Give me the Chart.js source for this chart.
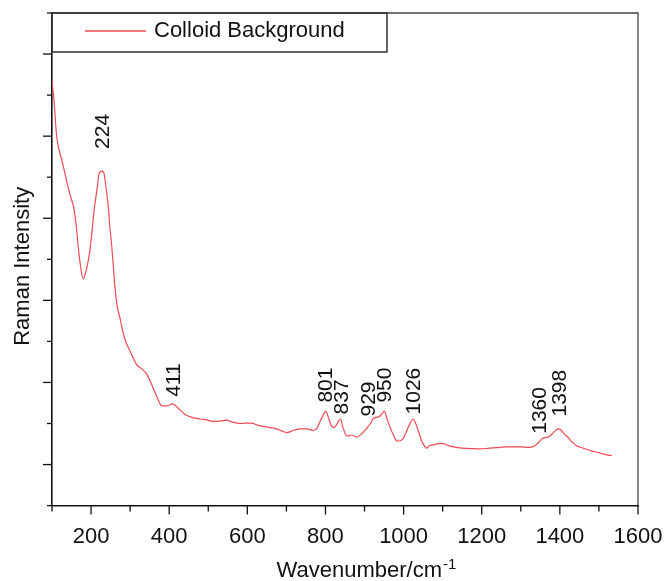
<!DOCTYPE html>
<html>
<head>
<meta charset="utf-8">
<script src="https://cdn.jsdelivr.net/npm/chart.js@4.4.1/dist/chart.umd.min.js"></script>
<style>
  html, body { margin: 0; padding: 0; background: #fff; }
  canvas { display: block; }
</style>
</head>
<body>
<canvas id="ramanChart" width="667" height="581"></canvas>
<script>
// спектр: волновое число (см-1) и интенсивность (усл. ед.)
const wavenumber = [
  100, 105, 112, 118, 125, 133, 142, 150, 155, 161, 167, 173, 180, 189, 196, 202,
  208, 215, 221, 228, 233, 238, 244, 248, 253, 257, 261, 267, 274, 278, 287, 300,
  317, 330, 342, 355, 368, 381, 394, 409, 421, 438, 454, 479, 496, 513, 530, 547,
  563, 581, 596, 611, 626, 641, 658, 675, 688, 701, 718, 735, 752, 769, 779, 786,
  793, 801, 808, 816, 822, 829, 838, 845, 855, 866, 880, 893, 906, 915, 923, 936,
  944, 951, 958, 966, 975, 983, 992, 1000, 1007, 1013, 1019, 1025, 1031, 1038, 1046, 1053,
  1059, 1066, 1076, 1089, 1102, 1115, 1128, 1150, 1170, 1196, 1220, 1240, 1260, 1281, 1300, 1320,
  1333, 1345, 1358, 1366, 1375, 1385, 1396, 1403, 1410, 1418, 1430, 1443, 1460, 1478, 1495, 1510,
  1523, 1533
];
const intensity = [
  10330, 9880, 8990, 8670, 8420, 8100, 7730, 7450, 7290, 6910, 6310, 5830, 5520, 5790, 6150, 6640,
  7210, 7690, 8100, 8150, 8100, 7770, 7290, 6800, 6310, 5830, 5340, 4850, 4570, 4380, 4040, 3760,
  3430, 3330, 3210, 2950, 2660, 2430, 2430, 2480, 2390, 2240, 2160, 2110, 2090, 2050, 2060, 2080,
  2030, 2000, 2010, 2010, 1960, 1930, 1900, 1870, 1820, 1780, 1830, 1870, 1870, 1830, 1900, 2050,
  2180, 2300, 2130, 1930, 1900, 1980, 2110, 1900, 1690, 1720, 1670, 1750, 1890, 2000, 2130, 2160,
  2230, 2300, 2100, 1890, 1700, 1570, 1580, 1650, 1800, 1930, 2050, 2110, 2000, 1810, 1580, 1460,
  1400, 1460, 1480, 1510, 1510, 1460, 1430, 1400, 1390, 1380, 1400, 1410, 1430, 1430, 1430, 1420,
  1440, 1530, 1650, 1660, 1700, 1790, 1870, 1840, 1760, 1690, 1560, 1460, 1400, 1340, 1300, 1260,
  1230, 1220
];

// подписи пиков: текст и точка привязки (нижний край подписи)
const peakLabels = ['224', '411', '801', '837', '929', '950', '1026', '1360', '1398'];
const peakLabelX = [232, 412, 803, 844, 911, 954, 1028, 1349, 1400];
const peakLabelY = [8690, 2650, 2510, 2220, 2170, 2510, 2220, 1750, 2170];

// деления осей
const xTicks = [100, 200, 300, 400, 500, 600, 700, 800, 900, 1000, 1100, 1200, 1300, 1400, 1500, 1600];
const xTickLabels = ['', '200', '', '400', '', '600', '', '800', '', '1000', '', '1200', '', '1400', '', '1600'];
const yTicks = [0, 1000, 2000, 3000, 4000, 5000, 6000, 7000, 8000, 9000, 10000, 11000, 12000];

const seriesName = 'Colloid Background';
const xTitle = 'Wavenumber/cm';
const xTitleSup = '-1';
const yTitle = 'Raman Intensity';

const FONT = '"Liberation Sans", Arial, sans-serif';
const TEXT = '#111';
const LINE = '#ef4a55';

// рамка, засечки, легенда, подписи
const decorPlugin = {
  id: 'decor',
  afterDraw(chart) {
    const ctx = chart.ctx;
    const area = chart.chartArea;
    const xs = chart.scales.x;
    const ys = chart.scales.y;
    ctx.save();

    // верх и правая сторона рамки
    ctx.strokeStyle = '#444';
    ctx.lineWidth = 1.3;
    ctx.beginPath();
    ctx.moveTo(area.left, area.top);
    ctx.lineTo(area.right, area.top);
    ctx.lineTo(area.right, area.bottom);
    ctx.stroke();

    // засечки по X (большие на подписанных)
    ctx.strokeStyle = '#111';
    ctx.lineWidth = 1.3;
    xTicks.forEach((v, i) => {
      const px = xs.getPixelForValue(v);
      const len = xTickLabels[i] ? 9 : 6;
      ctx.beginPath();
      ctx.moveTo(px, area.bottom);
      ctx.lineTo(px, area.bottom + len);
      ctx.stroke();
    });

    // засечки по Y
    yTicks.forEach((v, i) => {
      const py = ys.getPixelForValue(v);
      const len = i % 2 === 1 ? 9 : 5;
      ctx.beginPath();
      ctx.moveTo(area.left - len, py);
      ctx.lineTo(area.left, py);
      ctx.stroke();
    });

    // легенда
    ctx.strokeStyle = '#333';
    ctx.lineWidth = 1.5;
    ctx.strokeRect(area.left, area.top, 335, 39);
    ctx.strokeStyle = LINE;
    ctx.lineWidth = 1.3;
    ctx.beginPath();
    ctx.moveTo(area.left + 33, area.top + 18);
    ctx.lineTo(area.left + 94, area.top + 18);
    ctx.stroke();
    ctx.fillStyle = TEXT;
    ctx.font = '22px ' + FONT;
    ctx.textAlign = 'left';
    ctx.textBaseline = 'middle';
    ctx.fillText(chart.data.datasets[0].label, area.left + 102, area.top + 18);

    // подписи пиков
    ctx.font = '21px ' + FONT;
    peakLabels.forEach((t, i) => {
      const px = xs.getPixelForValue(peakLabelX[i]);
      const py = ys.getPixelForValue(peakLabelY[i]);
      ctx.save();
      ctx.translate(px, py);
      ctx.rotate(-Math.PI / 2);
      ctx.textAlign = 'left';
      ctx.textBaseline = 'middle';
      ctx.fillText(t, 0, 0);
      ctx.restore();
    });

    // название оси Y
    ctx.font = '22px ' + FONT;
    ctx.save();
    ctx.translate(23, (area.top + area.bottom) / 2 + 7);
    ctx.rotate(-Math.PI / 2);
    ctx.textAlign = 'center';
    ctx.textBaseline = 'middle';
    ctx.fillText(yTitle, 0, 0);
    ctx.restore();

    // название оси X с верхним индексом
    ctx.textAlign = 'left';
    ctx.textBaseline = 'alphabetic';
    const base = chart.height - 4;
    const w = ctx.measureText(xTitle).width;
    ctx.font = '15px ' + FONT;
    const ws = ctx.measureText(xTitleSup).width;
    const x0 = (area.left + area.right) / 2 + 21 - (w + ws) / 2;
    ctx.font = '22px ' + FONT;
    ctx.fillText(xTitle, x0, base);
    ctx.font = '15px ' + FONT;
    ctx.fillText(xTitleSup, x0 + w + 1, base - 8);

    ctx.restore();
  }
};

const ctx = document.getElementById('ramanChart').getContext('2d');

const config = {
  type: 'line',
  data: {
    datasets: [{
      label: seriesName,
      data: wavenumber.map((x, i) => ({ x: x, y: intensity[i] })),
      borderColor: LINE,
      borderWidth: 1.2,
      pointRadius: 0,
      cubicInterpolationMode: 'monotone',
      fill: false,
    }],
  },
  options: {
    responsive: false,
    animation: false,
    devicePixelRatio: 1,
    layout: {
      padding: { left: 52, top: 13, right: 29, bottom: 27 },
    },
    plugins: {
      legend: { display: false },
      tooltip: { enabled: false },
    },
    scales: {
      x: {
        type: 'linear',
        min: 100,
        max: 1600,
        afterBuildTicks: scale => {
          scale.ticks = xTicks.map(v => ({ value: v }));
        },
        ticks: {
          autoSkip: false,
          maxRotation: 0,
          padding: 4,
          color: TEXT,
          font: { family: FONT, size: 22 },
          callback: (value) => xTickLabels[xTicks.indexOf(value)] || '',
        },
        grid: {
          drawOnChartArea: false,
          tickLength: 14,
          tickColor: 'rgba(0,0,0,0)',
        },
        border: { color: '#111', width: 1.6 },
      },
      y: {
        min: 0,
        max: 12000,
        afterBuildTicks: scale => {
          scale.ticks = yTicks.map(v => ({ value: v }));
        },
        ticks: { display: false },
        grid: { display: false, drawTicks: false },
        border: { color: '#111', width: 1.6 },
      },
    },
  },
  plugins: [decorPlugin],
};

const ramanChart = new Chart(ctx, config);
</script>
</body>
</html>
